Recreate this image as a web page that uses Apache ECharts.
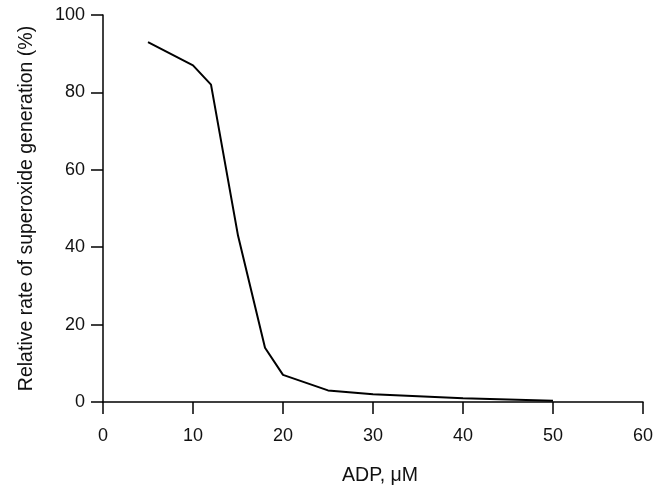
<!DOCTYPE html>
<html>
<head>
<meta charset="utf-8">
<script src="https://cdn.jsdelivr.net/npm/echarts@6/dist/echarts.min.js"></script>
<style>html,body{margin:0;padding:0;background:#fff}#c{width:668px;height:491px}</style>
</head>
<body>
<div id="c"></div>
<script>
var adp = [5, 10, 12, 15, 18, 20, 25, 30, 40, 50];
var rate = [93, 87, 82, 43, 14, 7, 3, 2, 1, 0.3];
var xTicks = [0, 10, 20, 30, 40, 50, 60];
var yTicks = [0, 20, 40, 60, 80, 100];

var chart = echarts.init(document.getElementById('c'));
var font = 'Liberation Sans, Arial, sans-serif';
chart.setOption({
  animation: false,
  backgroundColor: '#fff',
  grid: {left: 103, right: 25, top: 15, bottom: 87},
  xAxis: {
    type: 'value', min: xTicks[0], max: xTicks[xTicks.length - 1], interval: 10,
    name: 'ADP, μM', nameLocation: 'middle', nameGap: 64,
    nameTextStyle: {fontFamily: font, fontSize: 19.5, color: '#111', padding: [0, 0, 0, 14]},
    axisLine: {lineStyle: {color: '#000', width: 1.5}},
    axisTick: {length: 12, lineStyle: {color: '#000', width: 1.5}},
    axisLabel: {margin: 25, fontFamily: font, fontSize: 18, color: '#111'},
    splitLine: {show: false}
  },
  yAxis: {
    type: 'value', min: yTicks[0], max: yTicks[yTicks.length - 1], interval: 20,
    name: 'Relative rate of superoxide generation (%)', nameLocation: 'middle', nameGap: 66,
    nameTextStyle: {fontFamily: font, fontSize: 19.5, color: '#111'},
    axisLine: {show: true, lineStyle: {color: '#000', width: 1.5}},
    axisTick: {show: true, length: 12, lineStyle: {color: '#000', width: 1.5}},
    axisLabel: {margin: 18, fontFamily: font, fontSize: 18, color: '#111'},
    splitLine: {show: false}
  },
  series: [{
    type: 'line',
    data: adp.map(function (x, i) { return [x, rate[i]]; }),
    showSymbol: false,
    lineStyle: {color: '#000', width: 2},
    z: 1
  }]
});
</script>
</body>
</html>
